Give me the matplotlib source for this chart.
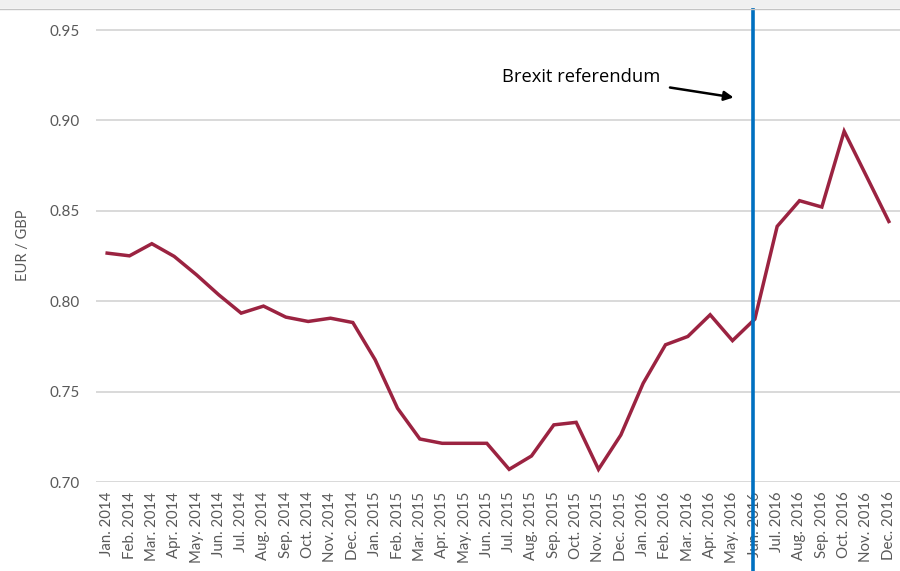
import matplotlib
matplotlib.use("Agg")
import matplotlib.pyplot as plt
from matplotlib.patches import Rectangle
from matplotlib.lines import Line2D

plt.rcParams['font.family'] = ['Lato', 'DejaVu Sans']

months = ["Jan.", "Feb.", "Mar.", "Apr.", "May.", "Jun.",
          "Jul.", "Aug.", "Sep.", "Oct.", "Nov.", "Dec."]
years = [2014, 2015, 2016]
labels = [f"{m} {y}" for y in years for m in months]

eur_gbp = [0.8266, 0.8251, 0.8318, 0.8248, 0.8146, 0.8035,
           0.7934, 0.7973, 0.7912, 0.7888, 0.7906, 0.7882,
           0.7676, 0.7408, 0.7238, 0.7214, 0.7214, 0.7214,
           0.7070, 0.7144, 0.7316, 0.7330, 0.7070, 0.7260,
           0.7546, 0.7759, 0.7805, 0.7925, 0.7782, 0.7901,
           0.8414, 0.8556, 0.8521, 0.8940, 0.8691, 0.8441]

yticks = [0.70, 0.75, 0.80, 0.85, 0.90, 0.95]
referendum_pos = 28.9          # 23 June 2016 on the monthly axis
note_text = "Brexit referendum"

W, H = 900, 571
fig = plt.figure(figsize=(W / 100, H / 100), dpi=100)
fig.patch.set_facecolor("white")

# window strip along the top edge
fig.patches.append(Rectangle((0, 1 - 8 / H), 1, 8 / H, transform=fig.transFigure,
                             facecolor="#f0f0f0", edgecolor="none", zorder=0))
fig.lines.append(Line2D([0, 1], [1 - 8.5 / H] * 2, transform=fig.transFigure,
                        color="#c4c4c4", lw=1.0))

left, right = 96 / W, 1.0
bottom, top = 1 - 482 / H, 1 - 9 / H
ax = fig.add_axes([left, bottom, right - left, top - bottom])

x = list(range(len(labels)))
ax.plot(x, eur_gbp, color="#9b2341", lw=2.5, solid_joinstyle="miter", zorder=3)

ax.set_xlim(-0.5, len(labels) - 0.5)
ymin = 0.70
ytop = 0.95 + 21 * 0.05 / 90.3
ax.set_ylim(ymin, ytop)

ax.set_yticks(yticks)
ax.set_yticklabels([f"{v:.2f}" for v in yticks])
ax.set_xticks(x)
ax.set_xticklabels(labels, rotation=90, va="top", ha="center")

ax.grid(axis="y", color="#d9d9d9", lw=1.4, zorder=0)
ax.set_axisbelow(True)
for s in ax.spines.values():
    s.set_visible(False)
ax.tick_params(axis="both", length=0, colors="#595959")
ax.tick_params(axis="y", labelsize=11, pad=11.5)
ax.tick_params(axis="x", labelsize=10.8, pad=7)

ax.set_ylabel("EUR / GBP", color="#595959", fontsize=10.5)
ax.yaxis.set_label_coords(-66 / (W * (right - left)), 0.5)

# referendum marker
ax.axvline(referendum_pos, ymin=-0.2, ymax=1.01, color="#0070c0", lw=2.6,
           clip_on=False, zorder=4)

ax.text(17.7, 0.9240, note_text, fontsize=13.2, color="black",
        ha="left", va="center", family=["Open Sans", "DejaVu Sans"])
ax.annotate("", xy=(28.05, 0.9127), xytext=(25.2, 0.9182),
            arrowprops=dict(arrowstyle="-|>", color="black", lw=1.8,
                            mutation_scale=14, shrinkA=0, shrinkB=0))

fig.savefig("out.png", dpi=100)
